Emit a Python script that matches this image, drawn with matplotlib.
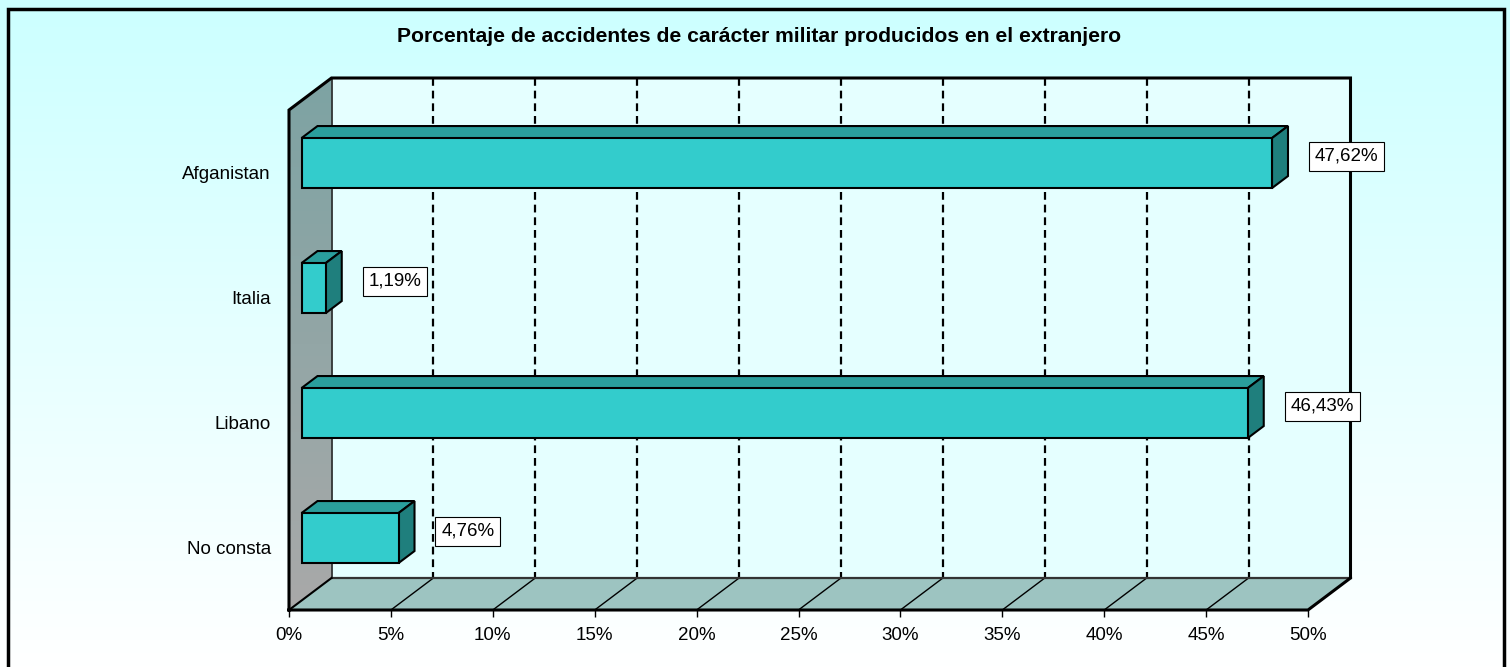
import numpy as np
import matplotlib.pyplot as plt
from matplotlib.patches import Polygon, Rectangle
from matplotlib.colors import LinearSegmentedColormap

plt.rcParams['font.family'] = ['Liberation Sans', 'DejaVu Sans']

# DATOS
categorias = ['Afganistan', 'Italia', 'Libano', 'No consta']
porcentajes = [47.62, 1.19, 46.43, 4.76]
etiquetas = ['47,62%', '1,19%', '46,43%', '4,76%']
ticks = [0, 5, 10, 15, 20, 25, 30, 35, 40, 45, 50]
tick_labels = ['0%', '5%', '10%', '15%', '20%', '25%', '30%', '35%', '40%', '45%', '50%']
titulo = 'Porcentaje de accidentes de carácter militar producidos en el extranjero'

W, H = 1510, 667
FS = 13.5
fig = plt.figure(figsize=(W / 100, H / 100), dpi=100)

# fondo degradado + marco
bg = fig.add_axes([0, 0, 1, 1])
bg.set_axis_off()
cm_bg = LinearSegmentedColormap.from_list('bg', ['#CCFFFF', '#FFFFFF'])
bg.imshow(np.linspace(0, 1, 256).reshape(-1, 1), cmap=cm_bg, aspect='auto',
          extent=[0, 1, 0, 1], origin='upper', zorder=0)
bg.set_xlim(0, 1)
bg.set_ylim(0, 1)
bg.add_patch(Rectangle((7.5 / W, -0.05), (1504 - 7.5) / W, 1.05 - 9 / H,
                       fill=False, ec='black', lw=2.5, zorder=5))

fig.text(0.503, 1 - 37 / H, titulo, ha='center', va='center',
         fontsize=15.2, fontweight='bold')

# plano frontal
ax = fig.add_axes([289 / W, 57 / H, 1019 / W, 500 / H])
ax.set_xlim(0, 50)
ax.set_ylim(3.5, -0.5)
ax.patch.set_visible(False)
for s in ['top', 'right', 'left', 'bottom']:
    ax.spines[s].set_visible(False)

n = len(categorias)
ytop, ybot = -0.5, n - 0.5
DX = 42.5 / (1019 / 50)   # profundidad en unidades de datos
DY = 32 / 125


def p(x, y, d):
    return (x + d * DX, y - d * DY)


# pared del fondo
ax.add_patch(Polygon([p(0, ytop, 1), p(50, ytop, 1), p(50, ybot, 1), p(0, ybot, 1)],
                     closed=True, fc='#E5FFFF', ec='none', clip_on=False, zorder=0.5))

# pared izquierda (degradado, dibujado en el eje de fondo)
pts_left = [p(0, ytop, 0), p(0, ytop, 1), p(0, ybot, 1), p(0, ybot, 0)]
left_clip = Polygon(pts_left, closed=True, transform=ax.transData)
fpts = (ax.transData + fig.transFigure.inverted()).transform(pts_left)
cm_left = LinearSegmentedColormap.from_list('l', ['#7DA3A3', '#A9A9A9'])
im2 = bg.imshow(np.linspace(0, 1, 256).reshape(-1, 1), cmap=cm_left, aspect='auto',
                extent=[fpts[:, 0].min(), fpts[:, 0].max(), fpts[:, 1].min(), fpts[:, 1].max()],
                origin='upper', zorder=1)
im2.set_clip_path(left_clip)
bg.set_xlim(0, 1)
bg.set_ylim(0, 1)

# suelo
ax.add_patch(Polygon([p(0, ybot, 0), p(50, ybot, 0), p(50, ybot, 1), p(0, ybot, 1)],
                     closed=True, fc='#9DC4C1', ec='none', clip_on=False, zorder=1))

# rejilla
for t in ticks[1:-1]:
    x0, y0 = p(t, ytop, 1)
    x1, y1 = p(t, ybot, 1)
    ax.plot([x0, x1], [y0, y1], color='black', lw=1.6, ls=(0, (3.5, 2.2)),
            clip_on=False, zorder=1)
    a = p(t, ybot, 0)
    b = p(t, ybot, 1)
    ax.plot([a[0], b[0]], [a[1], b[1]], color='black', lw=1, clip_on=False, zorder=1)

# contornos
ax.plot(*zip(p(0, ybot, 1), p(50, ybot, 1)), color='#333333', lw=1.6, clip_on=False, zorder=1.5)
ax.plot(*zip(p(0, ybot, 1), p(0, ytop, 1)), color='#222222', lw=1.2, clip_on=False, zorder=1.5)
ax.plot(*zip(p(0, ybot, 0), p(0, ytop, 0), p(0, ytop, 1), p(50, ytop, 1),
             p(50, ybot, 1), p(50, ybot, 0), p(0, ybot, 0)),
        color='black', lw=2.2, clip_on=False, zorder=2, solid_joinstyle='miter')
ax.plot(*zip(p(0, ybot, 0), p(0, ybot, 1)), color='black', lw=1.5, clip_on=False, zorder=2)

# barras 3D
d0, d1 = 12.5 / 42.5, 28.5 / 42.5
dd = d1 - d0
h = 0.4
for i, (v, lab) in enumerate(zip(porcentajes, etiquetas)):
    xa, yc = p(0, i, d0)
    xb = xa + v
    yt, yb = yc - h / 2, yc + h / 2
    front = Polygon([(xa, yt), (xb, yt), (xb, yb), (xa, yb)], closed=True,
                    fc='#33CCCC', ec='black', lw=1.5, clip_on=False, zorder=3)
    top = Polygon([(xa, yt), (xb, yt), (xb + dd * DX, yt - dd * DY), (xa + dd * DX, yt - dd * DY)],
                  closed=True, fc='#2A9E9C', ec='black', lw=1.5, clip_on=False, zorder=3)
    side = Polygon([(xb, yt), (xb, yb), (xb + dd * DX, yb - dd * DY), (xb + dd * DX, yt - dd * DY)],
                   closed=True, fc='#1F7F7D', ec='black', lw=1.5, clip_on=False, zorder=3)
    for patch in (top, side, front):
        ax.add_patch(patch)
    ax.text(xb + 2.1, yc - 0.056, lab, ha='left', va='center', fontsize=FS,
            bbox=dict(boxstyle='square,pad=0.32', fc='white', ec='black', lw=0.8),
            zorder=4, clip_on=False)

ax.set_xticks(ticks)
ax.set_xticklabels(tick_labels, fontsize=FS)
ax.set_yticks(range(n))
ax.set_yticklabels(categorias, fontsize=FS)
ax.tick_params(axis='x', length=5, width=1, direction='out', pad=7, colors='black')
ax.tick_params(axis='y', length=0, pad=13)
ax.set_xlim(0, 50)
ax.set_ylim(3.5, -0.5)

fig.savefig('out.png', dpi=100)
